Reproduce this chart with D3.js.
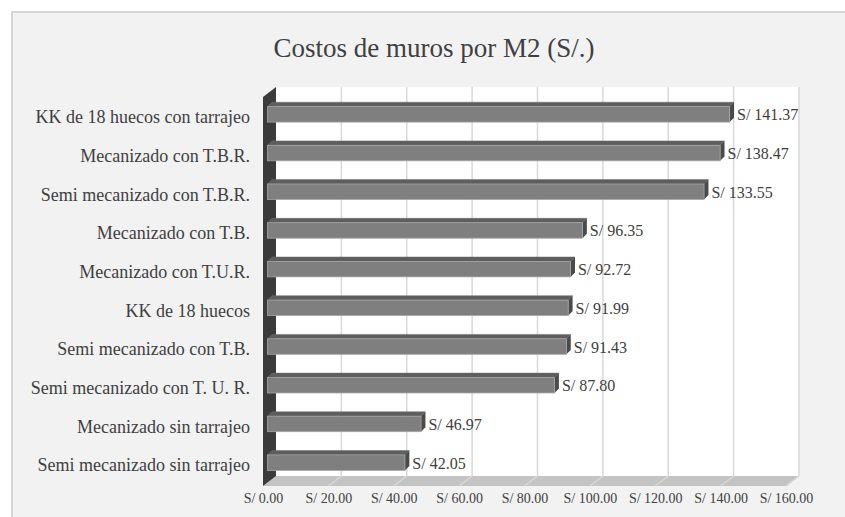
<!DOCTYPE html>
<html>
<head>
<meta charset="utf-8">
<script src="https://cdn.jsdelivr.net/npm/d3@7"></script>
<style>
  html, body { margin: 0; padding: 0; background: #ffffff; }
  svg { display: block; }
</style>
</head>
<body>
<svg id="chart" width="845" height="517"></svg>
<script>
// Wall costs per square metre, top to bottom
const categories = [
  "KK de 18 huecos con tarrajeo",
  "Mecanizado con T.B.R.",
  "Semi mecanizado con T.B.R.",
  "Mecanizado con T.B.",
  "Mecanizado con T.U.R.",
  "KK de 18 huecos",
  "Semi mecanizado con T.B.",
  "Semi mecanizado con T. U. R.",
  "Mecanizado sin tarrajeo",
  "Semi mecanizado sin tarrajeo"
];
const costs = [141.37, 138.47, 133.55, 96.35, 92.72, 91.99, 91.43, 87.80, 46.97, 42.05];
const xTicks = [0, 20, 40, 60, 80, 100, 120, 140, 160];
const xTickLabels = ["S/ 0.00", "S/ 20.00", "S/ 40.00", "S/ 60.00", "S/ 80.00",
                     "S/ 100.00", "S/ 120.00", "S/ 140.00", "S/ 160.00"];
const chartTitle = "Costos de muros por M2 (S/.)";

const svg = d3.select("#chart");
const FONT = "'Liberation Serif', 'Times New Roman', serif";

// chart area
svg.append("rect")
  .attr("x", 12).attr("y", 12)
  .attr("width", 860).attr("height", 540)
  .attr("fill", "#f2f2f2")
  .attr("stroke", "#d6d6d6").attr("stroke-width", 2);

svg.append("text")
  .attr("x", 434).attr("y", 57)
  .attr("text-anchor", "middle")
  .attr("font-family", FONT)
  .attr("font-size", 27)
  .attr("fill", "#404040")
  .text(chartTitle);

// 3D box geometry: front plane and depth offset of the back wall
const front = { left: 263, top: 97, bottom: 486 };
const depth = { dx: 13, dy: -10 };
const plotW = 523;

const x = d3.scaleLinear().domain([0, 160]).range([0, plotW]);

const backLeft = front.left + depth.dx;
const backTop = front.top + depth.dy;
const backBottom = front.bottom + depth.dy;

// back wall
svg.append("rect")
  .attr("x", backLeft).attr("y", backTop)
  .attr("width", x(160)).attr("height", backBottom - backTop)
  .attr("fill", "#ffffff");

// floor
svg.append("polygon")
  .attr("points", [
    [front.left, front.bottom],
    [backLeft, backBottom],
    [backLeft + x(160), backBottom],
    [front.left + x(160), front.bottom]
  ].map(p => p.join(",")).join(" "))
  .attr("fill", "#c4c4c4");

// gridlines on the back wall and across the floor
const grid = svg.append("g").attr("stroke", "#d9d9d9").attr("stroke-width", 1.5);
grid.selectAll("line.wall").data(xTicks.filter(d => d > 0)).join("line")
  .attr("class", "wall")
  .attr("x1", d => backLeft + x(d)).attr("x2", d => backLeft + x(d))
  .attr("y1", backTop).attr("y2", backBottom);
grid.selectAll("line.floor").data(xTicks.filter(d => d > 0)).join("line")
  .attr("class", "floor")
  .attr("x1", d => backLeft + x(d)).attr("x2", d => front.left + x(d))
  .attr("y1", backBottom).attr("y2", front.bottom);

// left wall
svg.append("polygon")
  .attr("points", [
    [front.left, front.top],
    [backLeft, backTop],
    [backLeft, backBottom],
    [front.left, front.bottom]
  ].map(p => p.join(",")).join(" "))
  .attr("fill", "#3b3b3b");

// bars sit a little behind the front plane
const barPlane = { left: 267.5, top: 95, bottom: 482 };
const y = d3.scaleBand()
  .domain(categories)
  .range([barPlane.top, barPlane.bottom])
  .paddingInner(0.6)
  .paddingOuter(0.3);
const bd = { dx: 4.4, dy: -4.4 };

const rows = categories.map((c, i) => ({ cat: c, val: costs[i] }));
const bars = svg.append("g").selectAll("g").data(rows).join("g");

// top face
bars.append("polygon")
  .attr("points", d => {
    const x0 = barPlane.left, x1 = barPlane.left + x(d.val), t = y(d.cat);
    return [[x0, t], [x0 + bd.dx, t + bd.dy], [x1 + bd.dx, t + bd.dy], [x1, t]]
      .map(p => p.join(",")).join(" ");
  })
  .attr("fill", "#5e5e5e")
  .attr("stroke", "#6a6a6a").attr("stroke-width", 0.5);

// right end face
bars.append("polygon")
  .attr("points", d => {
    const x1 = barPlane.left + x(d.val), t = y(d.cat), b = t + y.bandwidth();
    return [[x1, t], [x1 + bd.dx, t + bd.dy], [x1 + bd.dx, b + bd.dy], [x1, b]]
      .map(p => p.join(",")).join(" ");
  })
  .attr("fill", "#4a4a4a");

// front face
bars.append("rect")
  .attr("x", barPlane.left)
  .attr("y", d => y(d.cat))
  .attr("width", d => x(d.val))
  .attr("height", y.bandwidth())
  .attr("fill", "#7f7f7f")
  .attr("stroke", "#a6a6a6").attr("stroke-width", 0.8);

// value labels
const fmtVal = d3.format(".2f");
bars.append("text")
  .attr("x", d => barPlane.left + x(d.val) + bd.dx + 3)
  .attr("y", d => y(d.cat) + y.bandwidth() / 2 + 6)
  .attr("font-family", FONT)
  .attr("font-size", 16)
  .attr("fill", "#404040")
  .text(d => "S/ " + fmtVal(d.val));

// category axis
const yAxis = d3.axisLeft(y).tickSize(0).tickPadding(0);
svg.append("g")
  .attr("transform", "translate(250,3)")
  .call(yAxis)
  .call(g => g.select(".domain").remove())
  .call(g => g.selectAll("text")
    .attr("font-family", FONT)
    .attr("font-size", 18)
    .attr("fill", "#404040"));

// value axis along the front edge of the floor
const xFront = d3.scaleLinear().domain([0, 160]).range([front.left, front.left + plotW]);
const xAxis = d3.axisBottom(xFront)
  .tickValues(xTicks)
  .tickFormat((d, i) => xTickLabels[i])
  .tickSize(0).tickPadding(0);
svg.append("g")
  .attr("transform", "translate(0,493)")
  .call(xAxis)
  .call(g => g.select(".domain").remove())
  .call(g => g.selectAll("text")
    .attr("font-family", FONT)
    .attr("font-size", 14)
    .attr("fill", "#404040"));
</script>
</body>
</html>
